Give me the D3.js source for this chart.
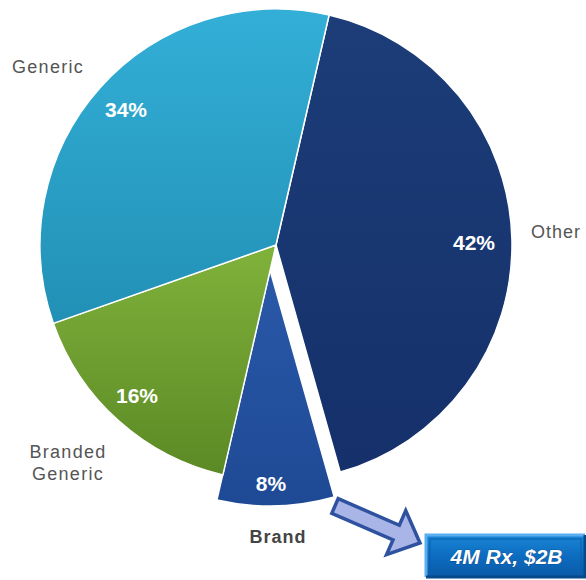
<!DOCTYPE html>
<html>
<head>
<meta charset="utf-8">
<script src="https://cdn.jsdelivr.net/npm/d3@7"></script>
<style>
  html, body { margin: 0; padding: 0; background: #ffffff; }
  svg { display: block; }
</style>
</head>
<body>
<svg id="chart" width="586" height="580"></svg>
<script>
// Prescription share by product type
const categories = ["Other", "Brand", "Branded Generic", "Generic"];
const shares = [42, 8, 16, 34];
const pctLabels = ["42%", "8%", "16%", "34%"];
const calloutText = "4M Rx, $2B";

const svg = d3.select("#chart");
const cx = 276, cy = 245, R = 236;

// slice colours: [top, bottom] of a soft vertical gradient
const colours = {
  "Other": ["#1c3d78", "#15306a"],
  "Brand": ["#2a59a9", "#1e4994"],
  "Branded Generic": ["#80b23b", "#5b8925"],
  "Generic": ["#33afd7", "#2290b5"]
};

const defs = svg.append("defs");
categories.forEach((c, i) => {
  const g = defs.append("linearGradient")
    .attr("id", "grad" + i)
    .attr("x1", 0).attr("y1", 0).attr("x2", 0).attr("y2", 1);
  g.append("stop").attr("offset", "0%").attr("stop-color", colours[c][0]);
  g.append("stop").attr("offset", "100%").attr("stop-color", colours[c][1]);
});
const boxGrad = defs.append("linearGradient").attr("id", "boxGrad")
  .attr("x1", 0).attr("y1", 0).attr("x2", 0).attr("y2", 1);
boxGrad.append("stop").attr("offset", "0%").attr("stop-color", "#1a86d6");
boxGrad.append("stop").attr("offset", "50%").attr("stop-color", "#0d6cc0");
boxGrad.append("stop").attr("offset", "100%").attr("stop-color", "#0a5aa6");

const startAngle = 13 * Math.PI / 180;
const pie = d3.pie().sort(null).value(d => d.value)
  .startAngle(startAngle).endAngle(startAngle + 2 * Math.PI);
const data = categories.map((c, i) => ({ name: c, value: shares[i], label: pctLabels[i], idx: i }));
const arcs = pie(data);

const arc = d3.arc().innerRadius(0).outerRadius(R);

// exploded slice offset
const explode = { "Brand": [-6, 25] };

const gPie = svg.append("g").attr("transform", `translate(${cx},${cy})`);

gPie.selectAll("path.slice")
  .data(arcs)
  .join("path")
  .attr("class", "slice")
  .attr("d", arc)
  .attr("transform", d => {
    const o = explode[d.data.name];
    return o ? `translate(${o[0]},${o[1]})` : null;
  })
  .attr("fill", d => `url(#grad${d.data.idx})`)
  .attr("stroke", "#ffffff")
  .attr("stroke-width", 1.5)
  .attr("stroke-linejoin", "round");

// percentage labels inside the slices
const pctPos = {
  "Other": [474, 250],
  "Brand": [271, 491],
  "Branded Generic": [137, 403],
  "Generic": [126, 117]
};
svg.selectAll("text.pct")
  .data(arcs)
  .join("text")
  .attr("class", "pct")
  .attr("x", d => pctPos[d.data.name][0])
  .attr("y", d => pctPos[d.data.name][1])
  .attr("text-anchor", "middle")
  .attr("font-family", "Liberation Sans, Arial, sans-serif")
  .attr("font-weight", "bold")
  .attr("font-size", 21)
  .attr("fill", "#ffffff")
  .text(d => d.data.label);

// category labels outside the pie
const labelFont = "Liberation Sans, Arial, sans-serif";
svg.append("text")
  .attr("x", 12).attr("y", 73)
  .attr("font-family", labelFont).attr("font-size", 18)
  .attr("letter-spacing", 1.3).attr("fill", "#555555")
  .text(categories[3]);

svg.append("text")
  .attr("x", 531).attr("y", 238)
  .attr("font-family", labelFont).attr("font-size", 18)
  .attr("letter-spacing", 1.0).attr("fill", "#555555")
  .text(categories[0]);

const bg = svg.append("text")
  .attr("font-family", labelFont).attr("font-size", 18)
  .attr("letter-spacing", 1.3).attr("fill", "#555555")
  .attr("text-anchor", "middle");
categories[2].split(" ").forEach((w, i) => {
  bg.append("tspan").attr("x", 68).attr("y", 458 + i * 22).text(w);
});

svg.append("text")
  .attr("x", 278).attr("y", 543)
  .attr("text-anchor", "middle")
  .attr("font-family", labelFont).attr("font-size", 18)
  .attr("font-weight", "bold")
  .attr("letter-spacing", 1.0).attr("fill", "#444444")
  .text(categories[1]);

// block arrow pointing from the Brand slice to the callout
const ax0 = 335, ay0 = 506, ax1 = 420, ay1 = 543;
const ang = Math.atan2(ay1 - ay0, ax1 - ax0) * 180 / Math.PI;
const len = Math.hypot(ax1 - ax0, ay1 - ay0);
const shaftH = 8, headH = 24, headL = 26;
const arrowPts = [
  [0, -shaftH], [len - headL, -shaftH], [len - headL, -headH],
  [len, 0], [len - headL, headH], [len - headL, shaftH], [0, shaftH]
];
svg.append("path")
  .attr("d", d3.line()(arrowPts) + "Z")
  .attr("transform", `translate(${ax0},${ay0}) rotate(${ang})`)
  .attr("fill", "#a9b5e6")
  .attr("stroke", "#2f52a0")
  .attr("stroke-width", 3.5)
  .attr("stroke-linejoin", "miter");

// callout box
const bx = 426, by = 535, bw = 159, bh = 42;
svg.append("rect")
  .attr("x", bx).attr("y", by).attr("width", bw).attr("height", bh)
  .attr("fill", "url(#boxGrad)");
// bevel edges
svg.append("path")
  .attr("d", `M${bx},${by + bh} L${bx},${by} L${bx + bw},${by}`)
  .attr("fill", "none").attr("stroke", "#5aaef0").attr("stroke-width", 3);
svg.append("path")
  .attr("d", `M${bx},${by + bh} L${bx + bw},${by + bh} L${bx + bw},${by}`)
  .attr("fill", "none").attr("stroke", "#074a8c").attr("stroke-width", 3);
svg.append("rect")
  .attr("x", bx + 4).attr("y", by + 4).attr("width", bw - 8).attr("height", bh - 8)
  .attr("fill", "none").attr("stroke", "#0b5fae").attr("stroke-width", 1);

svg.append("text")
  .attr("x", bx + bw / 2 + 1).attr("y", 564)
  .attr("text-anchor", "middle")
  .attr("font-family", labelFont).attr("font-size", 21)
  .attr("font-style", "italic")
  .attr("font-weight", "bold")
  .attr("fill", "#ffffff")
  .attr("stroke", "#0a3f7a").attr("stroke-width", 0.6)
  .attr("paint-order", "stroke")
  .text(calloutText);
</script>
</body>
</html>
